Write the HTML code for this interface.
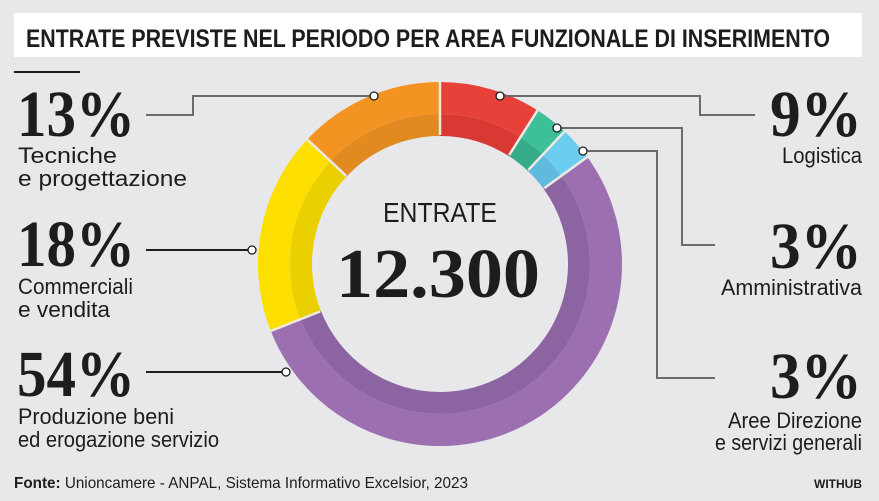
<!DOCTYPE html>
<html><head><meta charset="utf-8"><style>
html,body{margin:0;padding:0;background:#e8e8ea;}
svg{display:block}
.s{font-family:"Liberation Sans",sans-serif;fill:#1d1d1b}
.b{font-family:"Liberation Serif",serif;font-weight:bold;fill:#1d1d1b}
</style></head><body>
<svg width="879" height="501" viewBox="0 0 879 501" xmlns="http://www.w3.org/2000/svg">
<rect width="879" height="501" fill="#e8e8ea"/>
<rect x="14" y="13" width="848" height="44" fill="#fff"/>
<text class="s" x="26" y="47" font-size="25" font-weight="bold" textLength="804" lengthAdjust="spacingAndGlyphs">ENTRATE PREVISTE NEL PERIODO PER AREA FUNZIONALE DI INSERIMENTO</text>
<rect x="14" y="71" width="66" height="2" fill="#1d1d1b"/>

<g transform="rotate(-90 440 264)" fill="none">
<circle cx="440" cy="264" r="166" pathLength="100" stroke-width="32" stroke="#e8413a" stroke-dasharray="9 91" stroke-dashoffset="0"/>
<circle cx="440" cy="264" r="166" pathLength="100" stroke-width="32" stroke="#3dbf9a" stroke-dasharray="3 97" stroke-dashoffset="-9"/>
<circle cx="440" cy="264" r="166" pathLength="100" stroke-width="32" stroke="#6ccdf0" stroke-dasharray="3 97" stroke-dashoffset="-12"/>
<circle cx="440" cy="264" r="166" pathLength="100" stroke-width="32" stroke="#9b6fb0" stroke-dasharray="54 46" stroke-dashoffset="-15"/>
<circle cx="440" cy="264" r="166" pathLength="100" stroke-width="32" stroke="#fddf00" stroke-dasharray="18 82" stroke-dashoffset="-69"/>
<circle cx="440" cy="264" r="166" pathLength="100" stroke-width="32" stroke="#f39422" stroke-dasharray="13 87" stroke-dashoffset="-87"/>
<circle cx="440" cy="264" r="139" pathLength="100" stroke-width="22" stroke="#d83a33" stroke-dasharray="9 91" stroke-dashoffset="0"/>
<circle cx="440" cy="264" r="139" pathLength="100" stroke-width="22" stroke="#35ab89" stroke-dasharray="3 97" stroke-dashoffset="-9"/>
<circle cx="440" cy="264" r="139" pathLength="100" stroke-width="22" stroke="#5fbade" stroke-dasharray="3 97" stroke-dashoffset="-12"/>
<circle cx="440" cy="264" r="139" pathLength="100" stroke-width="22" stroke="#8d64a2" stroke-dasharray="54 46" stroke-dashoffset="-15"/>
<circle cx="440" cy="264" r="139" pathLength="100" stroke-width="22" stroke="#ebd000" stroke-dasharray="18 82" stroke-dashoffset="-69"/>
<circle cx="440" cy="264" r="139" pathLength="100" stroke-width="22" stroke="#e08a20" stroke-dasharray="13 87" stroke-dashoffset="-87"/>
</g>
<g stroke="#ece9e4" stroke-width="2.5">
<line x1="440" y1="135" x2="440" y2="81"/>
<line x1="440" y1="135" x2="440" y2="81" transform="rotate(32.4 440 264)"/>
<line x1="440" y1="135" x2="440" y2="81" transform="rotate(43.2 440 264)"/>
<line x1="440" y1="135" x2="440" y2="81" transform="rotate(54 440 264)"/>
<line x1="440" y1="135" x2="440" y2="81" transform="rotate(248.4 440 264)"/>
<line x1="440" y1="135" x2="440" y2="81" transform="rotate(313.2 440 264)"/>
</g>

<g fill="none" stroke="#6b6b6b" stroke-width="2">
<polyline points="374,96 193,96 193,115 146,115"/>
<polyline points="500,96 700,96 700,115 755,115"/>
<polyline points="557,128 682,128 682,245 715,245"/>
<polyline points="583,151 657,151 657,378 715,378"/>
<polyline points="252,250 146,250" stroke="#1d1d1b"/>
<polyline points="286,372 146,372" stroke="#1d1d1b"/>
</g>
<g fill="#fff" stroke="#1d1d1b" stroke-width="1.3">
<circle cx="374" cy="96" r="4"/><circle cx="500" cy="96" r="4"/>
<circle cx="557" cy="128" r="4"/><circle cx="583" cy="151" r="4"/>
<circle cx="252" cy="250" r="4"/><circle cx="286" cy="372" r="4"/>
</g>

<text class="s" x="440" y="222" font-size="28" text-anchor="middle" textLength="114" lengthAdjust="spacingAndGlyphs">ENTRATE</text>
<text class="b" x="438" y="297" font-size="70" text-anchor="middle" textLength="204" lengthAdjust="spacingAndGlyphs">12.300</text>

<text class="b" x="17" y="136" font-size="66" textLength="118" lengthAdjust="spacingAndGlyphs">13%</text>
<text class="s" x="18" y="163" font-size="22" textLength="99" lengthAdjust="spacingAndGlyphs">Tecniche</text>
<text class="s" x="18" y="186" font-size="22" textLength="169" lengthAdjust="spacingAndGlyphs">e progettazione</text>
<text class="b" x="17" y="266" font-size="66" textLength="118" lengthAdjust="spacingAndGlyphs">18%</text>
<text class="s" x="18" y="294" font-size="22" textLength="115" lengthAdjust="spacingAndGlyphs">Commerciali</text>
<text class="s" x="18" y="317" font-size="22" textLength="92" lengthAdjust="spacingAndGlyphs">e vendita</text>
<text class="b" x="17" y="396" font-size="66" textLength="118" lengthAdjust="spacingAndGlyphs">54%</text>
<text class="s" x="18" y="424" font-size="22" textLength="156" lengthAdjust="spacingAndGlyphs">Produzione beni</text>
<text class="s" x="18" y="447" font-size="22" textLength="201" lengthAdjust="spacingAndGlyphs">ed erogazione servizio</text>

<text class="b" x="862" y="136" font-size="66" text-anchor="end" textLength="92" lengthAdjust="spacingAndGlyphs">9%</text>
<text class="s" x="862" y="163" font-size="22" text-anchor="end" textLength="80" lengthAdjust="spacingAndGlyphs">Logistica</text>
<text class="b" x="862" y="268" font-size="66" text-anchor="end" textLength="92" lengthAdjust="spacingAndGlyphs">3%</text>
<text class="s" x="862" y="295" font-size="22" text-anchor="end" textLength="141" lengthAdjust="spacingAndGlyphs">Amministrativa</text>
<text class="b" x="862" y="398" font-size="66" text-anchor="end" textLength="92" lengthAdjust="spacingAndGlyphs">3%</text>
<text class="s" x="862" y="428" font-size="22" text-anchor="end" textLength="134" lengthAdjust="spacingAndGlyphs">Aree Direzione</text>
<text class="s" x="862" y="450" font-size="22" text-anchor="end" textLength="147" lengthAdjust="spacingAndGlyphs">e servizi generali</text>

<text class="s" x="14" y="488" font-size="16" textLength="454" lengthAdjust="spacingAndGlyphs"><tspan font-weight="bold">Fonte:</tspan> Unioncamere - ANPAL, Sistema Informativo Excelsior, 2023</text>
<text class="s" x="862" y="488" font-size="12" font-weight="bold" text-anchor="end">WITHUB</text>
</svg>
</body></html>
